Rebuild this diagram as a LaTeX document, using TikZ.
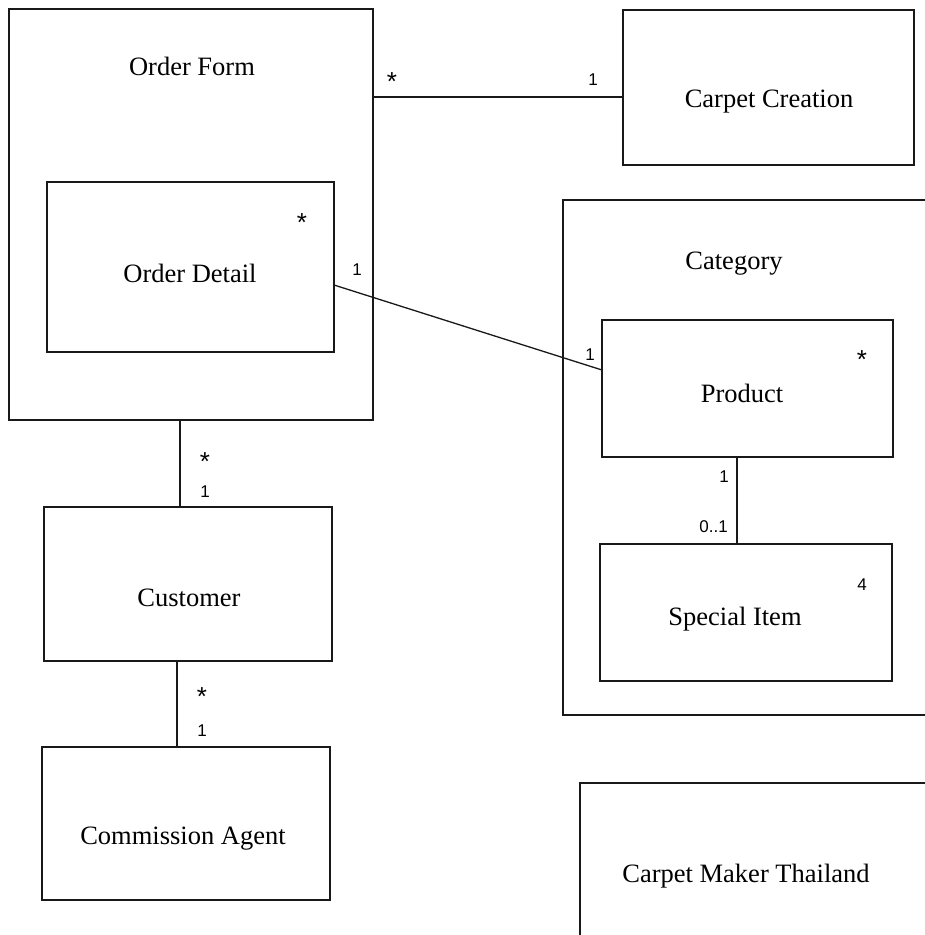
\documentclass[tikz,border=0pt]{standalone}
\usepackage{fontspec}
\setmainfont{Liberation Serif}
\newfontfamily\multfont{Liberation Sans}
\begin{document}
\begin{tikzpicture}[x=1pt,y=-1pt,
  box/.style={draw=black!90, line width=1.2pt, rectangle, inner sep=0pt, outer sep=0pt},
  cname/.style={font=\fontsize{26.5}{30}\selectfont, inner sep=0pt},
  mult/.style={font=\multfont\fontsize{17}{20}\selectfont, inner sep=0pt},
  multstar/.style={font=\multfont\fontsize{26}{30}\selectfont, inner sep=0pt, yshift=-4pt},
  assoc/.style={draw=black!90, line width=1.3pt}]
\useasboundingbox (0,0) rectangle (925,935);
\clip (0,0) rectangle (925,935);
\fill[white] (0,0) rectangle (925,935);

% class boxes
\node[box, minimum width=364pt, minimum height=411pt] (orderform) at (191,214.5) {};
\node[box, minimum width=287pt, minimum height=170pt] (orderdetail) at (190.5,267) {};
\node[box, minimum width=291pt, minimum height=155pt] (carpetcreation) at (768.5,87.5) {};
\node[box, minimum width=397pt, minimum height=515pt] (category) at (761.5,457.5) {};
\node[box, minimum width=291pt, minimum height=137pt] (product) at (747.5,388.5) {};
\node[box, minimum width=292pt, minimum height=137pt] (specialitem) at (746,612.5) {};
\node[box, minimum width=288pt, minimum height=154pt] (customer) at (188,584) {};
\node[box, minimum width=288pt, minimum height=153pt] (agent) at (186,823.5) {};
\node[box, minimum width=380pt, minimum height=190pt] (maker) at (770,878) {};

% class names
\node[cname] (orderform-t) at (192,66) {Order Form};
\node[cname] (orderdetail-t) at (190,273) {Order Detail};
\node[cname] (carpetcreation-t) at (769,102) {Carpet Creation};
\node[cname] (category-t) at (734,264) {Category};
\node[cname] (product-t) at (742,393) {Product};
\node[cname] (specialitem-t) at (735,619) {Special Item};
\node[cname] (customer-t) at (189,598) {Customer};
\node[cname] (agent-t) at (183,839) {Commission Agent};
\node[cname] (maker-t) at (746,876) {Carpet Maker Thailand};

% associations
\draw[assoc] ([yshift=-9.5pt]carpetcreation.west) -- ([yshift=-9.5pt]carpetcreation.west -| orderform.east);
\draw[assoc] ([yshift=-18pt]orderdetail.east) -- ([yshift=18.5pt]product.west);
\draw[assoc] ([xshift=-8pt]customer.north) -- ([xshift=-8pt]customer.north |- orderform.south);
\draw[assoc] ([xshift=-9pt]agent.north) -- ([xshift=-9pt]agent.north |- customer.south);
\draw[assoc] ([xshift=-9pt]specialitem.north) -- ([xshift=-9pt]specialitem.north |- product.south);

% multiplicities
\node[multstar] (m1) at (392,78) {*};
\node[mult] (m2) at (593,80) {1};
\node[mult] (m3) at (357,270) {1};
\node[mult] (m4) at (590,355) {1};
\node[multstar] (m5) at (302,219) {*};
\node[multstar] (m6) at (862,356) {*};
\node[mult] (m7) at (862,585) {4};
\node[multstar] (m8) at (205,458) {*};
\node[mult] (m9) at (205,492) {1};
\node[multstar] (m10) at (202,693) {*};
\node[mult] (m11) at (202,731) {1};
\node[mult] (m12) at (724,477) {1};
\node[mult, anchor=east] (m13) at (728,527) {0..1};
\end{tikzpicture}
\end{document}
